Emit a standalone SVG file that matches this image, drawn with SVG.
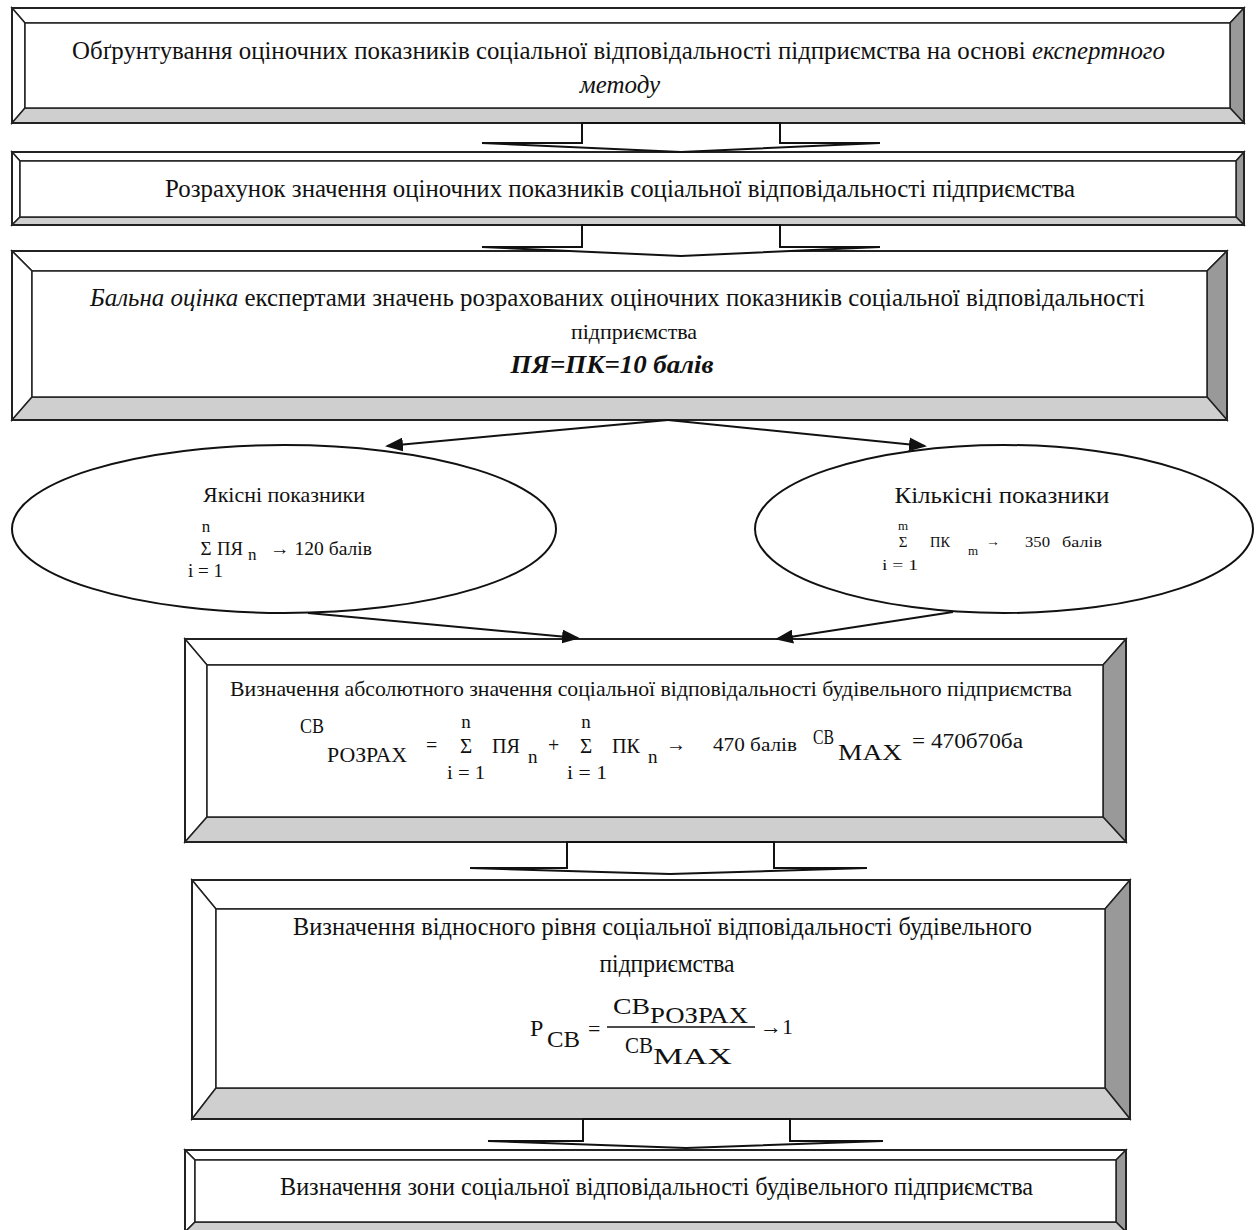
<svg xmlns="http://www.w3.org/2000/svg" width="1256" height="1230" viewBox="0 0 1256 1230">
<style>
text{font-family:"Liberation Serif","DejaVu Serif","Times New Roman",serif;fill:#111}
.o{fill:none;stroke:#222;stroke-width:2}
.w{fill:#fff;stroke:#222;stroke-width:1.5}
.lg{fill:#cfcfcf;stroke:#222;stroke-width:1.5}
.dg{fill:#999;stroke:#222;stroke-width:1.5}
.ba{fill:#fff;stroke:#111;stroke-width:2;stroke-linejoin:miter}
.cn{stroke:#111;stroke-width:2;fill:none}
.el{fill:#fff;stroke:#111;stroke-width:2}
.t25{font-size:25px}
.it{font-style:italic}
</style>
<defs>
<marker id="ah" markerUnits="userSpaceOnUse" markerWidth="18" markerHeight="14" refX="16" refY="7" orient="auto">
<path d="M0,0 L18,7 L0,14 z" fill="#111"/>
</marker>
</defs>

<g id="box1">
<polygon class="w" points="12,8 1244,8 1230,23 25,23"/>
<polygon class="w" points="12,8 25,23 25,108 12,123"/>
<polygon class="dg" points="1244,8 1244,123 1230,108 1230,23"/>
<polygon class="lg" points="12,123 1244,123 1230,108 25,108"/>
<rect class="w" x="25" y="23" width="1205" height="85"/>
<rect class="o" x="12" y="8" width="1232" height="115"/>
<text class="t25" x="72" y="59" textLength="1093" lengthAdjust="spacingAndGlyphs">Обґрунтування оціночних показників соціальної відповідальності підприємства на основі <tspan class="it">експертного</tspan></text>
<text class="t25 it" x="620" y="93" text-anchor="middle">методу</text>
</g>

<g id="box2">
<polygon class="w" points="12,152 1244,152 1236,161 20,161"/>
<polygon class="w" points="12,152 20,161 20,217 12,225"/>
<polygon class="dg" points="1244,152 1244,225 1236,217 1236,161"/>
<polygon class="lg" points="12,225 1244,225 1236,217 20,217"/>
<rect class="w" x="20" y="161" width="1216" height="56"/>
<rect class="o" x="12" y="152" width="1232" height="73"/>
<text class="t25" x="165" y="197" textLength="910" lengthAdjust="spacingAndGlyphs">Розрахунок значення оціночних показників соціальної відповідальності підприємства</text>
</g>

<g id="box3">
<polygon class="w" points="12,251 1227,251 1207,271 32,271"/>
<polygon class="w" points="12,251 32,271 32,397 12,420"/>
<polygon class="dg" points="1227,251 1227,420 1207,397 1207,271"/>
<polygon class="lg" points="12,420 1227,420 1207,397 32,397"/>
<rect class="w" x="32" y="271" width="1175" height="126"/>
<rect class="o" x="12" y="251" width="1215" height="169"/>
<text class="t25" x="90" y="306" textLength="1055" lengthAdjust="spacingAndGlyphs"><tspan class="it">Бальна оцінка</tspan> експертами значень розрахованих оціночних показників соціальної відповідальності</text>
<text x="634" y="339" text-anchor="middle" font-size="22">підприємства</text>
<text class="t25" x="612" y="373" text-anchor="middle" font-weight="bold" font-style="italic" textLength="203" lengthAdjust="spacingAndGlyphs">ПЯ=ПК=10 балів</text>
</g>

<g id="ellipse-left">
<ellipse class="el" cx="284" cy="529" rx="272" ry="84"/>
<text x="284" y="502" text-anchor="middle" font-size="21" textLength="162" lengthAdjust="spacingAndGlyphs">Якісні показники</text>
<text x="206" y="532" text-anchor="middle" font-size="17">n</text>
<text x="206" y="555" text-anchor="middle" font-size="19">Σ</text>
<text x="217" y="555" font-size="19" textLength="26" lengthAdjust="spacingAndGlyphs">ПЯ</text>
<text x="248" y="560" font-size="17">n</text>
<text x="270" y="555" font-size="19" textLength="102" lengthAdjust="spacingAndGlyphs">→ 120 балів</text>
<text x="188" y="577" font-size="18" textLength="35" lengthAdjust="spacingAndGlyphs">i = 1</text>
</g>

<g id="ellipse-right">
<ellipse class="el" cx="1004" cy="529" rx="249" ry="84"/>
<text x="1002" y="503" text-anchor="middle" font-size="24" textLength="215" lengthAdjust="spacingAndGlyphs">Кількісні показники</text>
<text x="903" y="530" text-anchor="middle" font-size="13">m</text>
<text x="903" y="547" text-anchor="middle" font-size="15">Σ</text>
<text x="930" y="547" font-size="14" textLength="20" lengthAdjust="spacingAndGlyphs">ПК</text>
<text x="968" y="555" font-size="13">m</text>
<text x="986" y="546" font-size="14">→</text>
<text x="1025" y="547" font-size="14" textLength="25" lengthAdjust="spacingAndGlyphs">350</text>
<text x="1062" y="547" font-size="14" textLength="40" lengthAdjust="spacingAndGlyphs">балів</text>
<text x="882" y="570" font-size="14" textLength="36" lengthAdjust="spacingAndGlyphs">i = 1</text>
</g>

<g id="box4">
<polygon class="w" points="185,639 1126,639 1103,665 207,665"/>
<polygon class="w" points="185,639 207,665 207,817 185,842"/>
<polygon class="dg" points="1126,639 1126,842 1103,817 1103,665"/>
<polygon class="lg" points="185,842 1126,842 1103,817 207,817"/>
<rect class="w" x="207" y="665" width="896" height="152"/>
<rect class="o" x="185" y="639" width="941" height="203"/>
<text x="230" y="696" font-size="21" textLength="842" lengthAdjust="spacingAndGlyphs">Визначення абсолютного значення соціальної відповідальності будівельного підприємства</text>
<text x="300" y="733" font-size="20" textLength="24" lengthAdjust="spacingAndGlyphs">СВ</text>
<text x="327" y="762" font-size="20" textLength="80" lengthAdjust="spacingAndGlyphs">РОЗРАХ</text>
<text x="426" y="752" font-size="20">=</text>
<text x="466" y="728" text-anchor="middle" font-size="19">n</text>
<text x="466" y="753" text-anchor="middle" font-size="21">Σ</text>
<text x="492" y="753" font-size="20" textLength="28" lengthAdjust="spacingAndGlyphs">ПЯ</text>
<text x="528" y="763" font-size="19">n</text>
<text x="548" y="752" font-size="20">+</text>
<text x="586" y="728" text-anchor="middle" font-size="19">n</text>
<text x="586" y="753" text-anchor="middle" font-size="21">Σ</text>
<text x="612" y="753" font-size="20" textLength="28" lengthAdjust="spacingAndGlyphs">ПК</text>
<text x="648" y="763" font-size="19">n</text>
<text x="666" y="751" font-size="20">→</text>
<text x="713" y="751" font-size="19" textLength="84" lengthAdjust="spacingAndGlyphs">470 балів</text>
<text x="447" y="779" font-size="19" textLength="38" lengthAdjust="spacingAndGlyphs">i = 1</text>
<text x="567" y="779" font-size="19" textLength="40" lengthAdjust="spacingAndGlyphs">i = 1</text>
<text x="813" y="744" font-size="22" textLength="21" lengthAdjust="spacingAndGlyphs">СВ</text>
<text x="838" y="760" font-size="24" textLength="64" lengthAdjust="spacingAndGlyphs">MAX</text>
<text x="912" y="748" font-size="20" textLength="111" lengthAdjust="spacingAndGlyphs">= 470б70ба</text>
</g>

<g id="box5">
<polygon class="w" points="192,880 1130,880 1105,909 216,909"/>
<polygon class="w" points="192,880 216,909 216,1088 192,1119"/>
<polygon class="dg" points="1130,880 1130,1119 1105,1088 1105,909"/>
<polygon class="lg" points="192,1119 1130,1119 1105,1088 216,1088"/>
<rect class="w" x="216" y="909" width="889" height="179"/>
<rect class="o" x="192" y="880" width="938" height="239"/>
<text class="t25" x="293" y="935" textLength="739" lengthAdjust="spacingAndGlyphs">Визначення відносного рівня соціальної відповідальності будівельного</text>
<text class="t25" x="667" y="972" text-anchor="middle" textLength="135" lengthAdjust="spacingAndGlyphs">підприємства</text>
<text x="530" y="1036" font-size="24">Р</text>
<text x="547" y="1047" font-size="24" textLength="33" lengthAdjust="spacingAndGlyphs">СВ</text>
<text x="588" y="1036" font-size="22">=</text>
<line x1="607" y1="1027" x2="755" y2="1027" stroke="#111" stroke-width="1.5"/>
<text x="613" y="1014" font-size="24" textLength="37" lengthAdjust="spacingAndGlyphs">СВ</text>
<text x="650" y="1023" font-size="24" textLength="98" lengthAdjust="spacingAndGlyphs">РОЗРАХ</text>
<text x="625" y="1053" font-size="24" textLength="28" lengthAdjust="spacingAndGlyphs">СВ</text>
<text x="653" y="1064" font-size="24" textLength="79" lengthAdjust="spacingAndGlyphs">MAX</text>
<text x="760" y="1034" font-size="22">→1</text>
</g>

<g id="box6">
<polygon class="w" points="185,1150 1126,1150 1116,1160 195,1160"/>
<polygon class="w" points="185,1150 195,1160 195,1222 185,1232"/>
<polygon class="dg" points="1126,1150 1126,1232 1116,1222 1116,1160"/>
<polygon class="lg" points="185,1232 1126,1232 1116,1222 195,1222"/>
<rect class="w" x="195" y="1160" width="921" height="62"/>
<rect class="o" x="185" y="1150" width="941" height="82"/>
<text class="t25" x="280" y="1195" textLength="753" lengthAdjust="spacingAndGlyphs">Визначення зони соціальної відповідальності будівельного підприємства</text>
</g>

<g id="connectors">
<polygon class="ba" points="582,123 780,123 780,143 880,143 681,152 482,143 582,143"/>
<polygon class="ba" points="582,225 780,225 780,247 880,247 681,256 482,247 582,247"/>
<polygon class="ba" points="567,842 774,842 774,868 867,868 670,874 470,868 567,868"/>
<polygon class="ba" points="583,1119 790,1119 790,1141 883,1141 686,1148 488,1141 583,1141"/>
<line class="cn" x1="668" y1="420" x2="387" y2="446" marker-end="url(#ah)"/>
<line class="cn" x1="668" y1="420" x2="925" y2="446" marker-end="url(#ah)"/>
<line class="cn" x1="308" y1="613" x2="578" y2="638" marker-end="url(#ah)"/>
<line class="cn" x1="953" y1="612" x2="777" y2="639" marker-end="url(#ah)"/>
</g>
</svg>
